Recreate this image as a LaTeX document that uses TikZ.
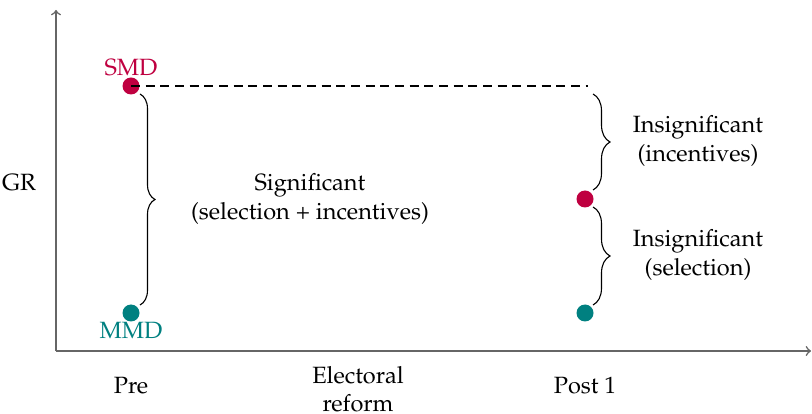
\documentclass[tikz,border=0pt]{standalone}
\usepackage[T1]{fontenc}
\usepackage{mathpazo}
\usetikzlibrary{decorations.pathreplacing}
\begin{document}
\begin{tikzpicture}[x=0.45pt,y=-0.45pt,
  font=\fontsize{10.6}{12.8}\selectfont,
  axis/.style={draw=black!60,line width=0.7pt,->},
  dot/.style={circle,inner sep=0pt,minimum size=17*0.45pt},
  bracepath/.style={draw,decorate,decoration={brace,amplitude=#1*0.45pt}},
  lbl/.style={align=center,inner sep=0pt}]
\useasboundingbox (0,0) rectangle (812,414);
% axes
\coordinate (O) at (56,351);
\coordinate (ytop) at (56,10);
\coordinate (xend) at (811,351);
\draw[axis] (O) -- (ytop);
\draw[axis] (O) -- (xend);
% dots
\node[dot,fill=purple] (smd) at (131,86) {};
\node[dot,fill=teal] (mmd) at (131,313) {};
\node[dot,fill=purple] (postsmd) at (585,199) {};
\node[dot,fill=teal] (postmmd) at (585,313) {};
\coordinate (dashend) at (588,86);
\draw[dash pattern=on 4pt off 2.6pt,line width=0.5pt] (smd.center) -- (dashend);
% braces
\coordinate (b1a) at (140,94);
\coordinate (b1b) at (140,305);
\coordinate (b2a) at (593,94);
\coordinate (b2b) at (593,190);
\coordinate (b3a) at (593,207);
\coordinate (b3b) at (593,305);
\draw[bracepath=15,line width=0.5pt] (b1a) -- (b1b);
\draw[bracepath=17,line width=0.5pt] (b2a) -- (b2b);
\draw[bracepath=17,line width=0.5pt] (b3a) -- (b3b);
% labels
\node[lbl,text=purple] (smdl) at (131,68) {SMD};
\node[lbl,text=teal] (mmdl) at (131,330) {MMD};
\node[lbl] (gr) at (19,183) {GR};
\node[lbl] (sig) at (310,199) {Significant\\(selection + incentives)};
\node[lbl] (ins1) at (698,141) {Insignificant\\(incentives)};
\node[lbl] (ins2) at (698,255) {Insignificant\\(selection)};
\node[lbl] (pre) at (131,386) {Pre};
\node[lbl] (ref) at (358,389) {Electoral\\reform};
\node[lbl] (post) at (585,386) {Post 1};
\end{tikzpicture}
\end{document}
